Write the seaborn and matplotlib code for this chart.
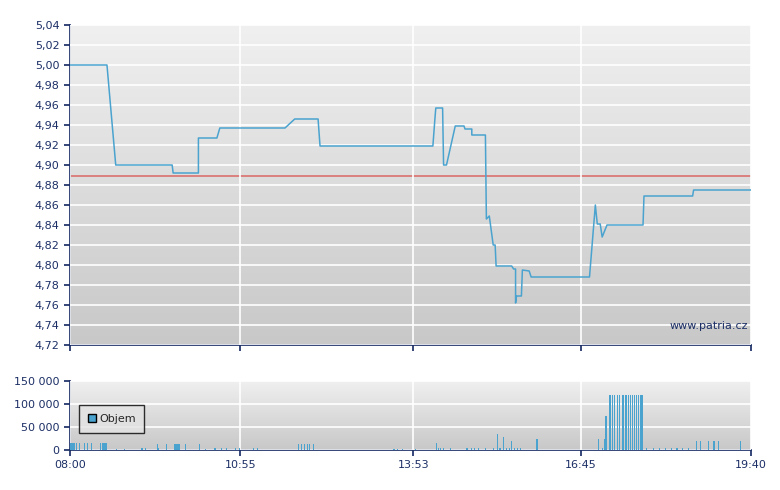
import matplotlib
matplotlib.use("Agg")
import matplotlib.pyplot as plt
import matplotlib.patches as patches
import numpy as np
import pandas as pd
import seaborn as sns

sns.set_theme(style="white")
plt.rcParams['font.family'] = ['DejaVu Sans']

# price path: minutes after 08:00, price
price_min = [0, 38, 47, 87, 105, 106, 132, 132, 151, 154, 221, 231, 255, 257, 373, 375, 376, 383, 384, 387,
             396, 405, 406, 413, 413, 427, 428, 431, 435, 437, 438, 454, 456, 458, 458, 459, 464, 465, 472,
             474, 534, 540, 542, 545, 547, 552, 589, 590, 640, 641, 700]
price_val = [5.000, 5.000, 4.900, 4.900, 4.900, 4.892, 4.892, 4.927, 4.927, 4.937, 4.937, 4.946, 4.946, 4.919,
             4.919, 4.945, 4.957, 4.957, 4.900, 4.900, 4.939, 4.939, 4.936, 4.936, 4.930, 4.930, 4.846, 4.849,
             4.820, 4.820, 4.799, 4.799, 4.796, 4.796, 4.762, 4.769, 4.769, 4.795, 4.794, 4.788, 4.788, 4.860,
             4.841, 4.841, 4.828, 4.840, 4.840, 4.869, 4.869, 4.875, 4.875]
ref_price = 4.889

# volume bars: minutes after 08:00, volume
vol_min = [1, 3, 5, 7, 10, 15, 18, 22, 31, 33, 35, 37, 48, 56, 74, 78, 90, 91, 99, 108, 110, 112, 119, 133,
           139, 149, 156, 161, 170, 174, 189, 193, 235, 238, 241, 244, 246, 250, 333, 337, 342, 355, 377,
           379, 381, 384, 391, 408, 413, 416, 420, 427, 435, 439, 442, 446, 449, 452, 454, 457, 460, 463,
           480, 543, 547, 549, 551, 555, 556, 558, 560, 563, 565, 568, 569, 571, 572, 574, 576, 578, 580,
           582, 584, 586, 588, 593, 600, 606, 612, 618, 624, 630, 636, 644, 648, 656, 662, 667, 689]
vol_val = [15000, 15000, 15000, 15000, 15000, 15000, 15000, 15000, 15000, 15000, 15000, 15000, 3000, 3000,
           4000, 4000, 13000, 4000, 13000, 13000, 13000, 13000, 13000, 13000, 2000, 4000, 4000, 4000, 4000,
           4000, 4000, 4000, 13000, 13000, 13000, 13000, 13000, 13000, 2000, 2000, 2000, 2000, 15000, 4000,
           4000, 4000, 4000, 4000, 4000, 4000, 4000, 4000, 4000, 35000, 4000, 28000, 4000, 4000, 20000, 4000,
           4000, 4000, 25000, 25000, 4000, 24000, 74000, 120000, 120000, 120000, 120000, 120000, 120000,
           120000, 120000, 120000, 120000, 120000, 120000, 120000, 120000, 120000, 120000, 120000, 120000,
           4000, 4000, 4000, 4000, 4000, 4000, 4000, 4000, 20000, 20000, 20000, 20000, 20000, 20000]

tick_min = [0, 175, 353, 525, 700]
tick_lbl = ["08:00", "10:55", "13:53", "16:45", "19:40"]

navy = "#1c2f66"
line_col = "#4aa3cf"

fig = plt.figure(figsize=(7.8, 4.9), dpi=100)
ax = fig.add_axes([70 / 780, 145 / 490, 681 / 780, 320 / 490])
axv = fig.add_axes([70 / 780, 40 / 490, 681 / 780, 69 / 490])


def style_axes(a):
    grad = np.linspace(0, 1, 256).reshape(-1, 1)
    a.imshow(grad, extent=[0, 1, 0, 1], transform=a.transAxes, aspect="auto",
             cmap=matplotlib.colors.LinearSegmentedColormap.from_list("g", ["#c8c8c8", "#f0f0f0"]),
             origin="lower", zorder=0)
    a.set_xlim(0, 700)
    a.set_xticks(tick_min)
    a.grid(True, color="white", linewidth=1.2, zorder=1)
    a.set_axisbelow(False)
    for s in ["top", "right"]:
        a.spines[s].set_visible(False)
    for s in ["left", "bottom"]:
        a.spines[s].set_color(navy)
    a.tick_params(colors=navy, labelcolor=navy, labelsize=8, length=4, direction="out",
                  left=True, bottom=True)


style_axes(ax)
df = pd.DataFrame({"t": price_min, "p": price_val})
sns.lineplot(data=df, x="t", y="p", estimator=None, sort=False, color=line_col, linewidth=1.1, ax=ax, zorder=3)
ax.axhline(ref_price, color="#d9706e", linewidth=1.2, zorder=2)
ax.set_ylim(4.72, 5.04)
yt = np.round(np.arange(4.72, 5.041, 0.02), 2)
ax.set_yticks(yt)
ax.set_yticklabels([f"{v:.2f}".replace(".", ",") for v in yt])
ax.set_xticklabels([])
ax.set_xlabel("")
ax.set_ylabel("")
ax.text(0.995, 0.06, "www.patria.cz", transform=ax.transAxes, ha="right", va="center",
        fontsize=8, color=navy, zorder=4)

style_axes(axv)
axv.bar(vol_min, vol_val, width=1.2, color=line_col, edgecolor="none", linewidth=0, zorder=3)
axv.set_ylim(0, 150000)
axv.set_yticks([0, 50000, 100000, 150000])
axv.set_yticklabels(["0", "50 000", "100 000", "150 000"])
axv.set_xticklabels(tick_lbl)
leg = axv.legend(handles=[patches.Patch(facecolor=line_col, edgecolor="black", label="Objem")],
                 loc="center left", bbox_to_anchor=(0.005, 0.45), fontsize=8, frameon=True,
                 handlelength=0.7, handleheight=0.7, handletextpad=0.3, fancybox=False, borderpad=0.8)
leg.get_frame().set_edgecolor("black")
leg.get_frame().set_facecolor("#e4e4e4")
leg.set_zorder(5)

fig.savefig("out.png", dpi=100)
